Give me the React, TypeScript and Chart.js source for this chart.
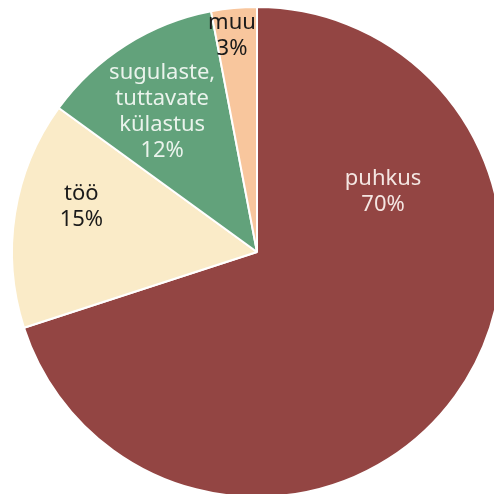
import React, { useEffect, useRef } from "react";
import { Chart, registerables } from "chart.js";

Chart.register(...registerables);

const categories = ["puhkus", "töö", "sugulaste, tuttavate külastus", "muu"];
const labelLines = [["puhkus"], ["töö"], ["sugulaste,", "tuttavate", "külastus"], ["muu"]];
const values = [70, 15, 12, 3];
const sliceColors = ["#934543", "#FAEBC8", "#62A27B", "#F8C69D"];
const labelColors = ["#F4E6E2", "#1a1a1a", "#EAF3EC", "#1a1a1a"];
// label placement: [fraction along slice angle, fraction of radius]
const labelPlacement = [
  [0.256, 0.57],
  [0.6, 0.74],
  [0.46, 0.69],
  [0.39, 0.89],
];

const labelPlugin = {
  id: "sliceLabels",
  afterDatasetsDraw(chart: any) {
    const ctx = chart.ctx;
    const meta = chart.getDatasetMeta(0);
    const data = chart.data.datasets[0].data as number[];
    const total = data.reduce((a: number, b: number) => a + b, 0);
    ctx.save();
    ctx.font = '22px "Noto Sans", "Lato", sans-serif';
    ctx.textAlign = "center";
    ctx.textBaseline = "middle";
    const lineH = 26;
    meta.data.forEach((arc: any, i: number) => {
      const p = arc.getProps(["x", "y", "startAngle", "endAngle", "outerRadius"], true);
      const [fa, fr] = labelPlacement[i];
      const a = p.startAngle + fa * (p.endAngle - p.startAngle);
      const r = fr * p.outerRadius;
      const cx = p.x + Math.cos(a) * r;
      const cy = p.y + Math.sin(a) * r;
      const pct = Math.round((data[i] / total) * 100) + "%";
      const lines = [...labelLines[i], pct];
      const startY = cy - ((lines.length - 1) * lineH) / 2;
      ctx.fillStyle = labelColors[i];
      lines.forEach((t, k) => ctx.fillText(t, cx, startY + k * lineH));
    });
    ctx.restore();
  },
};

export default function App() {
  const ref = useRef<HTMLCanvasElement>(null);
  useEffect(() => {
    if (!ref.current) return;
    const chart = new Chart(ref.current, {
      type: "pie",
      data: {
        labels: categories,
        datasets: [
          {
            data: values,
            backgroundColor: sliceColors,
            borderColor: "#ffffff",
            borderWidth: 2,
          },
        ],
      },
      options: {
        responsive: false,
        animation: false,
        radius: 245,
        layout: { padding: 0 },
        plugins: {
          legend: { display: false },
          tooltip: { enabled: false },
        },
      } as any,
      plugins: [labelPlugin],
    });
    return () => chart.destroy();
  }, []);
  return (
    <div
      style={{
        position: "fixed",
        left: 0,
        top: 0,
        width: 494,
        height: 494,
        overflow: "hidden",
        background: "#ffffff",
      }}
    >
      <canvas ref={ref} width={514} height={504} style={{ display: "block" }} />
    </div>
  );
}
